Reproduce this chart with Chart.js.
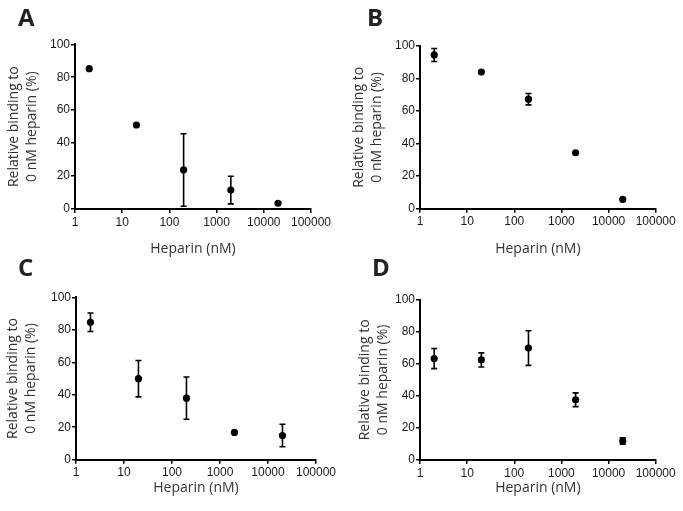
<!DOCTYPE html>
<html>
<head>
<meta charset="utf-8">
<script src="https://cdn.jsdelivr.net/npm/chart.js@4"></script>
<style>
  html, body { margin: 0; padding: 0; background: #fff; }
  body { width: 683px; height: 511px; position: relative; overflow: hidden; }
  .panel { position: absolute; }
</style>
</head>
<body>
<div class="panel" id="pA" style="left:0px;top:0px;width:341px;height:258px;"><canvas id="cA"></canvas></div>
<div class="panel" id="pB" style="left:341px;top:0px;width:342px;height:258px;"><canvas id="cB"></canvas></div>
<div class="panel" id="pC" style="left:0px;top:256px;width:341px;height:255px;"><canvas id="cC"></canvas></div>
<div class="panel" id="pD" style="left:341px;top:256px;width:342px;height:255px;"><canvas id="cD"></canvas></div>
<script>
// ---- data ----
const panelLetters = ['A', 'B', 'C', 'D'];
const heparinDoses = [2, 20, 200, 2000, 20000];          // nM
const xTickValues = [1, 10, 100, 1000, 10000, 100000];
const yTickValues = [0, 20, 40, 60, 80, 100];
const xAxisTitle = 'Heparin (nM)';
const yAxisTitle = ['Relative binding to', '0 nM heparin (%)'];

const meanA = [85.2, 51.0, 23.7, 11.5, 3.5];
const errA  = [0, 0, 22.0, 8.4, 0];
const meanB = [94.5, 84.0, 67.3, 34.4, 5.7];
const errB  = [4.0, 0, 3.5, 0, 0];
const meanC = [84.6, 49.9, 37.9, 16.8, 14.9];
const errC  = [5.7, 11.2, 13.0, 0, 6.9];
const meanD = [63.3, 62.4, 69.8, 37.6, 11.8];
const errD  = [6.3, 4.4, 10.8, 4.3, 2.0];

const panelMeans = [meanA, meanB, meanC, meanD];
const panelErrs = [errA, errB, errC, errD];

// ---- layout per panel (positions/sizes only) ----
const layouts = [
  { id: 'cA', padTop: 44.3, padRight: 30,   yW: 75, xH: 49,   yTitlePad: 4.9,  xTitlePad: 0,    letterX: 18, letterY: 26 },
  { id: 'cB', padTop: 46,   padRight: 27.3, yW: 79, xH: 49.3, yTitlePad: 8.9,  xTitlePad: 0,    letterX: 26, letterY: 26 },
  { id: 'cC', padTop: 41.3, padRight: 25,   yW: 76, xH: 51.3, yTitlePad: 3.9,  xTitlePad: 13.9, letterX: 18, letterY: 20 },
  { id: 'cD', padTop: 43.7, padRight: 27.3, yW: 79, xH: 51,   yTitlePad: 14.9, xTitlePad: 13.9, letterX: 31, letterY: 20 }
];

const errorBarPlugin = {
  id: 'errorBars',
  afterDatasetsDraw(chart) {
    const { ctx, scales: { x, y } } = chart;
    chart.data.datasets.forEach((ds) => {
      if (!ds.errors) return;
      ctx.save();
      ctx.strokeStyle = '#000';
      ctx.lineWidth = 1.6;
      ds.data.forEach((pt, i) => {
        const e = ds.errors[i];
        if (!e) return;
        const px = x.getPixelForValue(pt.x);
        const yt = y.getPixelForValue(pt.y + e);
        const yb = y.getPixelForValue(pt.y - e);
        const cap = 3;
        ctx.beginPath();
        ctx.moveTo(px, yt); ctx.lineTo(px, yb);
        ctx.moveTo(px - cap, yt); ctx.lineTo(px + cap, yt);
        ctx.moveTo(px - cap, yb); ctx.lineTo(px + cap, yb);
        ctx.stroke();
      });
      ctx.restore();
    });
  }
};

const letterPlugin = {
  id: 'panelLetter',
  afterDraw(chart, args, opts) {
    const ctx = chart.ctx;
    ctx.save();
    ctx.fillStyle = '#222';
    ctx.font = 'bold 24px "Open Sans", "DejaVu Sans", sans-serif';
    ctx.textAlign = 'left';
    ctx.textBaseline = 'alphabetic';
    ctx.fillText(opts.text, opts.x, opts.y);
    ctx.restore();
  }
};

panelLetters.forEach((letter, p) => {
  const L = layouts[p];
  const points = heparinDoses.map((d, i) => ({ x: d, y: panelMeans[p][i] }));
  new Chart(document.getElementById(L.id), {
    type: 'scatter',
    data: {
      datasets: [{
        data: points,
        errors: panelErrs[p],
        backgroundColor: '#000',
        borderColor: '#000',
        borderWidth: 0,
        pointRadius: 3.6,
        pointHoverRadius: 3.6,
        showLine: false
      }]
    },
    plugins: [errorBarPlugin, letterPlugin],
    options: {
      responsive: true,
      maintainAspectRatio: false,
      animation: false,
      events: [],
      layout: { padding: { top: L.padTop, right: L.padRight, left: 0, bottom: 0 } },
      plugins: {
        legend: { display: false },
        tooltip: { enabled: false },
        panelLetter: { text: letter, x: L.letterX, y: L.letterY }
      },
      scales: {
        x: {
          type: 'logarithmic',
          min: 1,
          max: 100000,
          afterBuildTicks: (s) => { s.ticks = xTickValues.map(v => ({ value: v })); },
          afterFit: (s) => { s.height = L.xH; },
          ticks: {
            autoSkip: false,
            maxRotation: 0,
            minRotation: 0,
            padding: 2,
            color: '#1a1a1a',
            font: { family: '"Liberation Sans", Arial, sans-serif', size: 12 },
            callback: (v) => String(v)
          },
          grid: { display: true, drawOnChartArea: false, drawTicks: true, tickLength: 4, color: '#000', lineWidth: 1.5 },
          border: { display: true, color: '#000', width: 2 },
          title: {
            display: true,
            text: xAxisTitle,
            color: '#333',
            font: { family: '"Open Sans", sans-serif', size: 14, lineHeight: 1.3 },
            padding: { top: 0, bottom: L.xTitlePad }
          }
        },
        y: {
          type: 'linear',
          min: 0,
          max: 100,
          afterBuildTicks: (s) => { s.ticks = yTickValues.map(v => ({ value: v })); },
          afterFit: (s) => { s.width = L.yW; },
          ticks: {
            padding: 1,
            color: '#1a1a1a',
            font: { family: '"Liberation Sans", Arial, sans-serif', size: 12 },
            callback: (v) => String(v)
          },
          grid: { display: true, drawOnChartArea: false, drawTicks: true, tickLength: 4, color: '#000', lineWidth: 1.5 },
          border: { display: true, color: '#000', width: 2 },
          title: {
            display: true,
            text: yAxisTitle,
            color: '#333',
            font: { family: '"Open Sans", sans-serif', size: 14, lineHeight: 1.3 },
            padding: { top: L.yTitlePad, bottom: 0 }
          }
        }
      }
    }
  });
});
</script>
</body>
</html>
